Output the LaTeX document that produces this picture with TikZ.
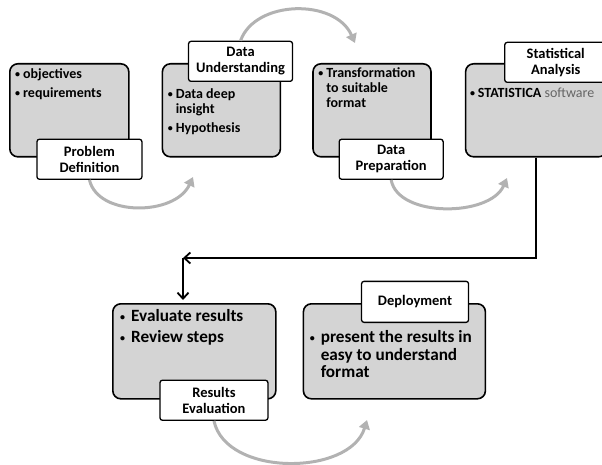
\documentclass[tikz,border=0pt]{standalone}
\usepackage{fontspec}
\setmainfont{Carlito}
\usetikzlibrary{positioning,arrows.meta}
\definecolor{stagefill}{gray}{0.83}
\definecolor{cyclegray}{gray}{0.70}
\newcommand\stagelist[2][3pt]{\begin{tabular}{@{}l@{\hspace{#1}}l@{}}#2\end{tabular}}
\newcommand\dotmark{\raisebox{0.8pt}{\fontsize{10}{10}\selectfont\textbullet}}
\tikzset{
    stage/.style ={
        shape=rectangle,
        rounded corners=8pt,
        draw=black,
        line width=1.6pt,
        fill=stagefill,
        anchor=north west,
        minimum height=93pt
    },
    stagetag/.style ={
        shape=rectangle,
        rounded corners=2.5pt,
        draw=black,
        line width=1.3pt,
        fill=white,
        align=center,
        inner sep=0pt,
        minimum height=40pt,
        font=\bfseries\fontsize{14.5}{16}\selectfont
    },
    notes/.style ={
        anchor=north west,
        inner sep=0pt,
        align=left,
        font=\bfseries\fontsize{14}{15}\selectfont
    },
    bignotes/.style ={
        notes,
        font=\bfseries\fontsize{17.2}{17.6}\selectfont
    },
    cyclearrow/.style ={
        draw=cyclegray,
        line width=3pt,
        -{Triangle[length=9pt,width=11pt]}
    },
    flowarrow/.style ={
        draw=black,
        line width=1.8pt,
        -{Straight Barb[length=6pt,width=11pt]}
    }
}

\begin{document}
\begin{tikzpicture}[x=1pt,y=-1pt]
    \useasboundingbox (0,0) rectangle (602,465);
    % upper row
    \node[stage,minimum width=119pt] (pd) at (9,63) {};
    \node[stage,minimum width=118pt,right=32pt of pd] (du) {};
    \node[stage,minimum width=118pt,right=31pt of du] (dp) {};
    \node[stage,minimum width=141pt,right=33pt of dp] (sa) {};
    % lower row
    \node[stage,minimum width=163pt,minimum height=95pt] (re) at (112,303) {};
    \node[stage,minimum width=182pt,minimum height=95pt,right=26pt of re] (dm) {};

    \node[notes,xshift=6pt,yshift=-4.5pt] (pd-notes) at (pd.north west)
        {\stagelist{\dotmark & objectives\\[4pt] \dotmark & requirements}};
    \node[notes,xshift=6pt,yshift=-24.5pt] (du-notes) at (du.north west)
        {\stagelist{\dotmark & Data deep\\ & insight\\[4pt] \dotmark & Hypothesis}};
    \node[notes,xshift=6pt,yshift=-3.5pt] (dp-notes) at (dp.north west)
        {\stagelist{\dotmark & Transformation\\ & to suitable\\ & format}};
    \node[notes,xshift=5pt,yshift=-23.5pt] (sa-notes) at (sa.north west)
        {\stagelist{\dotmark & STATISTICA {\mdseries\color{black!60}software}}};
    \node[bignotes,xshift=8pt,yshift=-6pt] (re-notes) at (re.north west)
        {\stagelist[6pt]{\dotmark & Evaluate results\\[3.5pt] \dotmark & Review steps}};
    \node[bignotes,xshift=7pt,yshift=-27pt] (dm-notes) at (dm.north west)
        {\stagelist[6pt]{\dotmark & present the results in\\ & easy to understand\\ & format}};

    % tags
    \node[stagetag,minimum width=105pt,anchor=north east,xshift=13pt,yshift=19pt] (pd-tag) at (pd.south east) {Problem\\Definition};
    \node[stagetag,minimum width=104pt,anchor=south east,xshift=12pt,yshift=-19pt] (du-tag) at (du.north east) {Data\\Understanding};
    \node[stagetag,minimum width=104pt,anchor=north east,xshift=12pt,yshift=19pt] (dp-tag) at (dp.south east) {Data\\Preparation};
    \node[stagetag,minimum width=102pt,anchor=south east,yshift=-20pt] (sa-tag) at (sa.north east) {Statistical\\Analysis};
    \node[stagetag,minimum width=108pt,anchor=north east,xshift=-8pt,yshift=20pt] (re-tag) at (re.south east) {Results\\Evaluation};
    \node[stagetag,minimum width=107pt,minimum height=41pt,anchor=south east,xshift=-17pt,yshift=-20pt] (dm-tag) at (dm.north east) {Deployment};

    % cycle arrows
    \coordinate (du-in) at (193,177);
    \coordinate (dp-in) at (355,43);
    \coordinate (sa-in) at (507,178);
    \coordinate (dm-in) at (367,420);
    \draw[cyclearrow] (pd-tag.south) .. controls (98,217) and (175,216) .. (du-in);
    \draw[cyclearrow] (du-tag.north) .. controls (255,0) and (335,-2) .. (dp-in);
    \draw[cyclearrow] (dp-tag.south) .. controls (398,218) and (490,217) .. (sa-in);
    \draw[cyclearrow] (re-tag.south) .. controls (226,477) and (350,476) .. (dm-in);

    % flow to evaluation
    \coordinate (turn) at (183,258);
    \draw[flowarrow] (sa.south) |- (turn);
    \draw[flowarrow,shorten >=3pt] (turn) -- (turn |- re.north);
\end{tikzpicture}
\end{document}
